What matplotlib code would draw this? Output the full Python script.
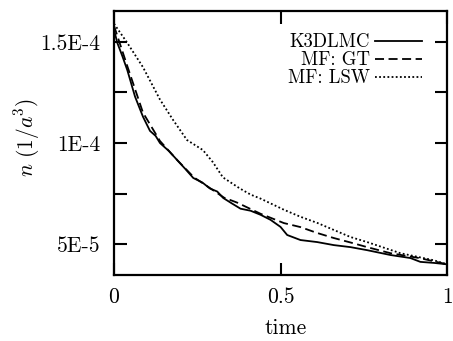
import matplotlib
matplotlib.use("Agg")
import matplotlib.pyplot as plt
from matplotlib.ticker import FixedLocator

plt.rcParams['font.family'] = ['cmr10', 'DejaVu Serif']
plt.rcParams['mathtext.fontset'] = 'cm'
plt.rcParams['axes.unicode_minus'] = False
plt.rcParams['axes.formatter.use_mathtext'] = True

# K3DLMC (solid)
t_k3d = [0, 0.01, 0.025, 0.04, 0.063, 0.087, 0.108, 0.125, 0.138, 0.165, 0.19, 0.215, 0.238,
         0.265, 0.288, 0.31, 0.328, 0.355, 0.38, 0.41, 0.44, 0.47, 0.5, 0.52, 0.56, 0.61, 0.66,
         0.71, 0.76, 0.83, 0.89, 0.92, 0.96, 1.0]
n_k3d = [15.6e-5, 14.95e-5, 14.3e-5, 13.6e-5, 12.3e-5, 11.3e-5, 10.6e-5, 10.35e-5, 10.0e-5,
         9.6e-5, 9.15e-5, 8.7e-5, 8.27e-5, 8.05e-5, 7.75e-5, 7.6e-5, 7.28e-5, 7.0e-5, 6.75e-5,
         6.65e-5, 6.45e-5, 6.2e-5, 5.85e-5, 5.45e-5, 5.2e-5, 5.1e-5, 4.95e-5, 4.85e-5, 4.7e-5,
         4.46e-5, 4.31e-5, 4.12e-5, 4.07e-5, 4.0e-5]

# MF: GT (dashed)
t_gt = [0, 0.04, 0.087, 0.138, 0.19, 0.24, 0.29, 0.33, 0.37, 0.44, 0.51, 0.56, 0.61, 0.66,
        0.71, 0.76, 0.83, 0.92, 1.0]
n_gt = [15.8e-5, 13.8e-5, 11.5e-5, 10.1e-5, 9.15e-5, 8.3e-5, 7.75e-5, 7.3e-5, 7.05e-5, 6.5e-5,
        6.04e-5, 5.84e-5, 5.55e-5, 5.3e-5, 5.08e-5, 4.85e-5, 4.55e-5, 4.3e-5, 4.0e-5]

# MF: LSW (dotted)
t_lsw = [0, 0.04, 0.087, 0.138, 0.177, 0.219, 0.267, 0.297, 0.327, 0.378, 0.41, 0.44, 0.51,
         0.56, 0.61, 0.66, 0.71, 0.76, 0.86, 0.96, 1.0]
n_lsw = [15.9e-5, 14.95e-5, 13.75e-5, 12.15e-5, 11.15e-5, 10.15e-5, 9.65e-5, 9.05e-5, 8.3e-5,
         7.75e-5, 7.45e-5, 7.25e-5, 6.7e-5, 6.35e-5, 6.05e-5, 5.7e-5, 5.35e-5, 5.1e-5, 4.55e-5,
         4.2e-5, 4.0e-5]

xticks = [0, 0.5, 1]
xticklabels = ['0', '0.5', '1']
yticks = [5e-5, 1e-4, 1.5e-4]
yticklabels = ['5E-5', '1E-4', '1.5E-4']
yminor = [7.5e-5, 1.25e-4]
labels = ['K3DLMC', 'MF: GT', 'MF: LSW']

fig = plt.figure(figsize=(4.53, 3.41), dpi=100)
ax = fig.add_axes([0.2517, 0.1935, 0.7351, 0.7742])

lw = 1.3
ax.plot(t_k3d, n_k3d, color='black', lw=lw, ls='-', label=labels[0])
ax.plot(t_gt, n_gt, color='black', lw=lw, ls=(0, (5, 2.5)), label=labels[1])
ax.plot(t_lsw, n_lsw, color='black', lw=lw, ls=(0, (1, 1.3)), label=labels[2])

ax.set_xlim(0, 1)
ax.set_ylim(3.47e-5, 1.653e-4)
ax.set_xticks(xticks)
ax.set_xticklabels(xticklabels)
ax.set_yticks(yticks)
ax.set_yticklabels(yticklabels)
ax.yaxis.set_minor_locator(FixedLocator(yminor))

for s in ax.spines.values():
    s.set_linewidth(1.6)
ax.tick_params(which='both', direction='in', length=9, width=1.5, top=True, right=True,
               labelsize=15.5)
ax.tick_params(axis='y', pad=10)
ax.tick_params(axis='x', pad=9)

ax.set_xlabel('time', fontsize=15.5)
ax.set_ylabel(r'$n\ (1/a^3)$', fontsize=15.5)
ax.xaxis.set_label_coords(0.515, -0.165)
ax.yaxis.set_label_coords(-0.215, 0.52)

leg = ax.legend(loc='upper right', frameon=False, markerfirst=False, fontsize=13.5,
                handlelength=2.5, labelspacing=0.0, handletextpad=0.3,
                borderaxespad=0, borderpad=0, bbox_to_anchor=(0.925, 0.915))

fig.savefig('out.png', dpi=100)
